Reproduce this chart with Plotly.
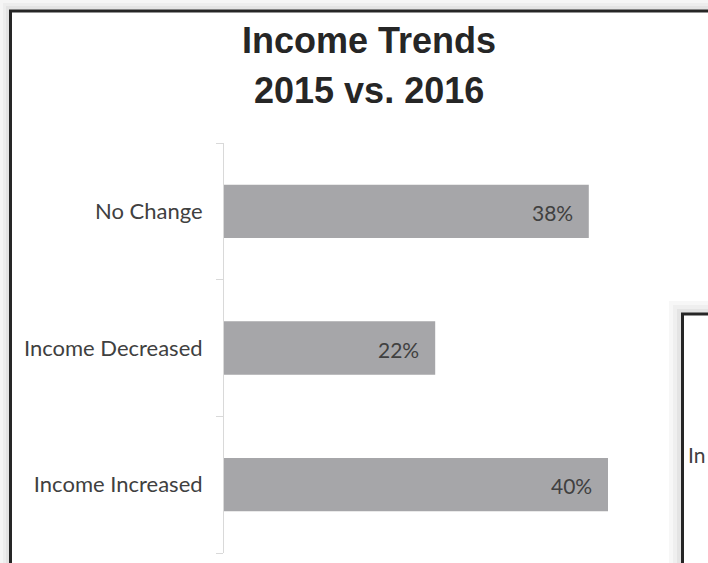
import plotly.graph_objects as go

categories = ["Income Increased", "Income Decreased", "No Change"]
values = [40, 22, 38]
value_labels = ["40%", "22%", "38%"]
title_lines = ["Income Trends", "2015 vs. 2016"]

W, H = 708, 563

def px(x):
    return x / W

def py(y):
    return 1 - y / H

fig = go.Figure()
fig.add_trace(go.Bar(
    y=categories, x=values, orientation="h",
    marker=dict(color="#a6a6a9", line=dict(width=0)),
    width=0.39, hoverinfo="skip",
))

annotations = []
for c, v, t in zip(categories, values, value_labels):
    annotations.append(dict(x=v, y=c, xref="x", yref="y", text=t, showarrow=False,
                            xanchor="right", xshift=-14, yshift=-1,
                            font=dict(family="Lato", size=21, color="#404040")))

title_font = dict(family="Liberation Sans Narrow, Arial Narrow, Liberation Sans, Arial", size=36,
                  color="#262626", weight="bold")
annotations.append(dict(x=px(369), y=py(40), xref="paper", yref="paper",
                        text=title_lines[0], showarrow=False, xanchor="center", yanchor="middle",
                        font=title_font))
annotations.append(dict(x=px(369), y=py(90), xref="paper", yref="paper",
                        text=title_lines[1], showarrow=False, xanchor="center", yanchor="middle",
                        font=title_font))
annotations.append(dict(x=px(707), y=py(455), xref="paper", yref="paper",
                        text="In", showarrow=False, xanchor="right", yanchor="middle",
                        font=dict(family="Lato", size=21, color="#404040")))

shapes = []
# soft shadow around the main frame
for i, col in enumerate(["#f5f5f5", "#ededed", "#e3e3e3"]):
    shapes.append(dict(type="rect", xref="paper", yref="paper", x0=px(i * 3), x1=px(9), y0=py(i * 3), y1=py(H), fillcolor=col, line_width=0, layer="below"))
    shapes.append(dict(type="rect", xref="paper", yref="paper", x0=px(i * 3), x1=px(W), y0=py(i * 3), y1=py(10), fillcolor=col, line_width=0, layer="below"))
# main frame
shapes.append(dict(type="line", xref="paper", yref="paper", x0=px(9), x1=px(W), y0=py(11), y1=py(11), line=dict(color="#262626", width=3)))
shapes.append(dict(type="line", xref="paper", yref="paper", x0=px(10.5), x1=px(10.5), y0=py(10), y1=py(H), line=dict(color="#262626", width=3)))
# overlapping second panel (bottom right)
for i, col in enumerate(["#f7f7f7", "#efefef", "#e4e4e4"]):
    shapes.append(dict(type="rect", xref="paper", yref="paper", x0=px(669 + i * 4), x1=px(W), y0=py(301 + i * 4), y1=py(H), fillcolor=col, line_width=0, layer="above"))
shapes.append(dict(type="rect", xref="paper", yref="paper", x0=px(682), x1=px(W), y0=py(313), y1=py(H), fillcolor="white", line_width=0, layer="above"))
shapes.append(dict(type="line", xref="paper", yref="paper", x0=px(681), x1=px(W), y0=py(314), y1=py(314), line=dict(color="#262626", width=3), layer="above"))
shapes.append(dict(type="line", xref="paper", yref="paper", x0=px(682.5), x1=px(682.5), y0=py(313), y1=py(H), line=dict(color="#262626", width=3), layer="above"))

fig.update_layout(
    width=W, height=H,
    margin=dict(l=0, r=0, t=0, b=0),
    paper_bgcolor="white", plot_bgcolor="rgba(0,0,0,0)",
    showlegend=False,
    annotations=annotations,
    shapes=shapes,
    xaxis=dict(domain=[px(224), px(704)], range=[0, 50], visible=False, fixedrange=True),
    yaxis=dict(domain=[py(553), py(143)], type="category", categoryorder="array", categoryarray=categories,
               range=[-0.5, 2.5], showline=True, linecolor="#d9d9d9", linewidth=1,
               ticks="outside", tickson="boundaries", ticklen=7, tickcolor="#d9d9d9", tickwidth=1,
               ticklabelstandoff=16, showgrid=False, automargin=False, fixedrange=True,
               tickfont=dict(family="Lato", size=22, color="#404040")),
)

fig.write_html("out.html", config={"displayModeBar": False},
               post_script="document.body.style.margin='0';document.body.style.overflow='hidden';")
